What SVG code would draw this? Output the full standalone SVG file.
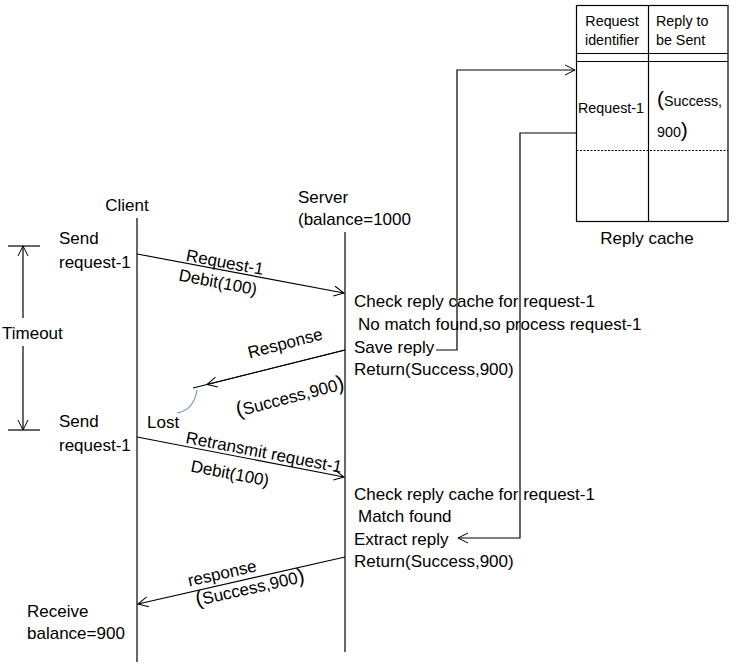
<svg xmlns="http://www.w3.org/2000/svg" width="736" height="670" viewBox="0 0 736 670">
<defs>
<marker id="ah" viewBox="0 0 12 12" refX="11" refY="6" markerWidth="12" markerHeight="12" markerUnits="userSpaceOnUse" orient="auto">
<path d="M1,1 L11,6 L1,11" fill="none" stroke="#000" stroke-width="1"/>
</marker>
<style>
text{font-family:"Liberation Sans",Arial,sans-serif;font-size:17px;fill:#000}
.s{font-size:14.3px}
.big{font-size:21px}
.ln{stroke:#000;stroke-width:1.2;fill:none}
</style>
</defs>
<rect width="736" height="670" fill="#fff"/>
<g id="reply-cache">
<rect x="576.5" y="5.5" width="151.5" height="216" class="ln"/>
<line x1="648.5" y1="5.5" x2="648.5" y2="221.5" class="ln"/>
<line x1="576.5" y1="53.5" x2="728" y2="53.5" class="ln"/>
<line x1="576.5" y1="61.5" x2="728" y2="61.5" class="ln"/>
<line x1="576.5" y1="150.5" x2="728" y2="150.5" stroke="#000" stroke-width="1" stroke-dasharray="2,1.5"/>
<text class="s" x="612" y="26" text-anchor="middle">Request</text>
<text class="s" x="612" y="45" text-anchor="middle">identifier</text>
<text class="s" x="656" y="26">Reply to</text>
<text class="s" x="656" y="45">be Sent</text>
<text class="s" x="578" y="113">Request-1</text>
<text class="s" x="657" y="106"><tspan class="big">(</tspan>Success,</text>
<text class="s" x="657" y="137">900<tspan class="big">)</tspan></text>
<text x="647" y="244" text-anchor="middle">Reply cache</text>
</g>
<g id="client">
<text x="127" y="211" text-anchor="middle">Client</text>
<line x1="137" y1="218" x2="137" y2="662" class="ln"/>
</g>
<g id="server">
<text x="298" y="203">Server</text>
<text x="298" y="225">(balance=1000</text>
<line x1="345" y1="232" x2="345" y2="652" class="ln"/>
</g>
<g id="timeout">
<line x1="8" y1="246" x2="40" y2="246" class="ln"/>
<line x1="8" y1="430" x2="40" y2="430" class="ln"/>
<line x1="23" y1="318" x2="23" y2="246" class="ln" marker-end="url(#ah)"/>
<line x1="23" y1="346" x2="23" y2="430" class="ln" marker-end="url(#ah)"/>
<text x="2" y="339">Timeout</text>
</g>
<g id="labels">
<text x="59" y="244">Send</text>
<text x="59" y="268">request-1</text>
<text x="59" y="427">Send</text>
<text x="59" y="451">request-1</text>
<text x="147" y="428">Lost</text>
<text x="27" y="617">Receive</text>
<text x="27" y="639">balance=900</text>
</g>
<g id="server-notes-1">
<text x="354" y="307">Check reply cache for request-1</text>
<text x="358" y="330">No match found,so process request-1</text>
<text x="354" y="353">Save reply</text>
<text x="354" y="375">Return(Success,900)</text>
</g>
<g id="server-notes-2">
<text x="354" y="500">Check reply cache for request-1</text>
<text x="358" y="522">Match found</text>
<text x="354" y="545">Extract reply</text>
<text x="354" y="567">Return(Success,900)</text>
</g>
<g id="connectors">
<line x1="137" y1="254" x2="344" y2="293" class="ln" marker-end="url(#ah)"/>
<text x="225" y="268" text-anchor="middle" transform="rotate(10.6 225 262)">Request-1</text>
<text x="218" y="288" text-anchor="middle" transform="rotate(10.6 218 282)">Debit(100)</text>
<line x1="345" y1="350" x2="193" y2="388" class="ln"/>
<line x1="345" y1="350" x2="207" y2="384.5" class="ln" marker-end="url(#ah)"/>
<path d="M197,390 Q194,410 177,413" fill="none" stroke="#6f9bc9" stroke-width="1.2"/>
<text x="285" y="349" text-anchor="middle" transform="rotate(-14.6 285 343)">Response</text>
<text x="290" y="403" text-anchor="middle" transform="rotate(-14.6 290 397)"><tspan class="big">(</tspan>Success,900<tspan class="big">)</tspan></text>
<line x1="137" y1="437" x2="344" y2="477" class="ln" marker-end="url(#ah)"/>
<text x="264" y="458" text-anchor="middle" transform="rotate(10.9 264 452)">Retransmit request-1</text>
<text x="230" y="479" text-anchor="middle" transform="rotate(10.9 230 473)">Debit(100)</text>
<line x1="345" y1="557" x2="138" y2="604" class="ln" marker-end="url(#ah)"/>
<text x="222" y="579" text-anchor="middle" transform="rotate(-12.7 222 573)">response</text>
<text x="250" y="594" text-anchor="middle" transform="rotate(-12.7 250 588)"><tspan class="big">(</tspan>Success,900<tspan class="big">)</tspan></text>
<polyline points="436,350 457,350 457,70 575,70" class="ln" marker-end="url(#ah)"/>
<polyline points="576,133 520,133 520,538 458,538" class="ln" marker-end="url(#ah)"/>
</g>
</svg>
